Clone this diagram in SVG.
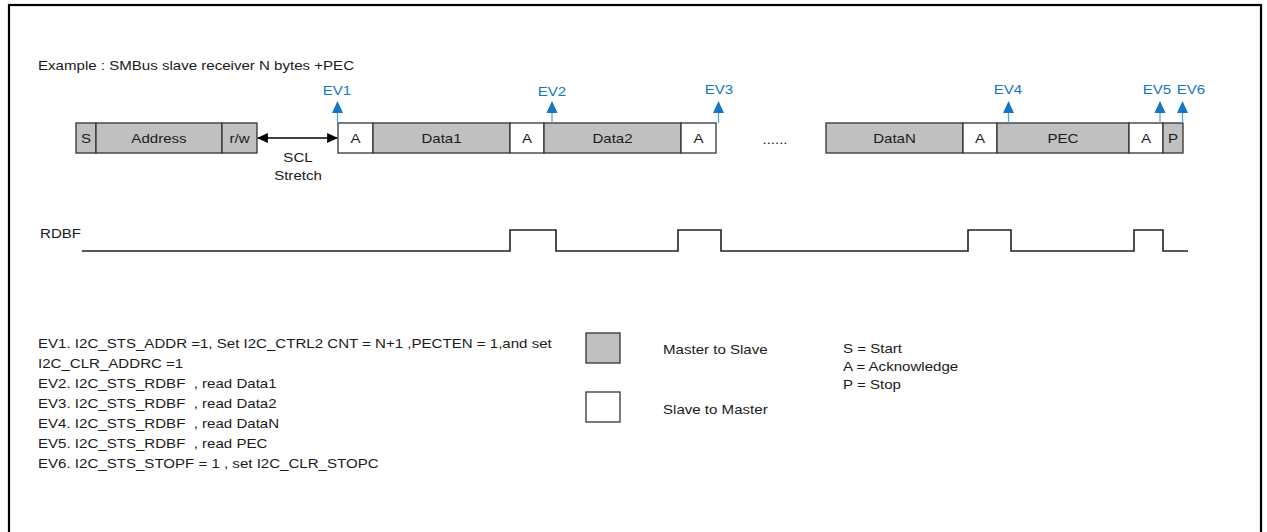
<svg xmlns="http://www.w3.org/2000/svg" width="1267" height="532" viewBox="0 0 1267 532">
<style>
text{font-family:"Liberation Sans",Arial,sans-serif;font-size:13px;fill:#1a1a1a}
.c{text-anchor:middle}
.ev{fill:#1476c6}
.g{fill:#c0c0c0;stroke:#333;stroke-width:1.3}
.w{fill:#fff;stroke:#333;stroke-width:1.3}
.wave{fill:none;stroke:#222;stroke-width:1.6}
.stem{stroke:#5aa3dc;stroke-width:1.3}
</style>
<defs>
<marker id="ah" viewBox="0 0 10 10" refX="9" refY="5" markerWidth="11" markerHeight="11" markerUnits="userSpaceOnUse" orient="auto-start-reverse">
<path d="M0,0.5 L10,5 L0,9.5 z" fill="#000"/>
</marker>
<path id="evh" d="M-5.5,12 L0,0 L5.5,12 z" fill="#1476c6"/>
</defs>
<rect x="9" y="5" width="1252" height="535" fill="#fff" stroke="#000" stroke-width="2.2"/>
<text transform="translate(38,70) scale(1.16,1)">Example : SMBus slave receiver N bytes +PEC</text>

<g id="frame-boxes">
<g id="S"><rect class="g" x="76" y="123" width="20" height="30"/><text class="c" transform="translate(86,142.5) scale(1.16,1)">S</text></g>
<g id="Address"><rect class="g" x="96" y="123" width="126" height="30"/><text class="c" transform="translate(159,142.5) scale(1.16,1)">Address</text></g>
<g id="rw"><rect class="g" x="222" y="123" width="35" height="30"/><text class="c" transform="translate(239.5,142.5) scale(1.16,1)">r/w</text></g>
<g id="A1"><rect class="w" x="338" y="123" width="35" height="30"/><text class="c" transform="translate(355.5,142.5) scale(1.16,1)">A</text></g>
<g id="Data1"><rect class="g" x="373" y="123" width="137" height="30"/><text class="c" transform="translate(441.5,142.5) scale(1.16,1)">Data1</text></g>
<g id="A2"><rect class="w" x="510" y="123" width="34" height="30"/><text class="c" transform="translate(527,142.5) scale(1.16,1)">A</text></g>
<g id="Data2"><rect class="g" x="544" y="123" width="137" height="30"/><text class="c" transform="translate(612.5,142.5) scale(1.16,1)">Data2</text></g>
<g id="A3"><rect class="w" x="681" y="123" width="35" height="30"/><text class="c" transform="translate(698.5,142.5) scale(1.16,1)">A</text></g>
<g id="dots"><text class="c" transform="translate(775,144) scale(1.16,1)">......</text></g>
<g id="DataN"><rect class="g" x="826" y="123" width="137" height="30"/><text class="c" transform="translate(894.5,142.5) scale(1.16,1)">DataN</text></g>
<g id="A4"><rect class="w" x="963" y="123" width="34" height="30"/><text class="c" transform="translate(980,142.5) scale(1.16,1)">A</text></g>
<g id="PEC"><rect class="g" x="997" y="123" width="132" height="30"/><text class="c" transform="translate(1063,142.5) scale(1.16,1)">PEC</text></g>
<g id="A5"><rect class="w" x="1129" y="123" width="34" height="30"/><text class="c" transform="translate(1146,142.5) scale(1.16,1)">A</text></g>
<g id="P"><rect class="g" x="1163" y="123" width="20" height="30"/><text class="c" transform="translate(1173,142.5) scale(1.16,1)">P</text></g>
</g>

<g id="scl-stretch">
<text class="c" transform="translate(298,162) scale(1.16,1)">SCL</text>
<text class="c" transform="translate(298,180) scale(1.16,1)">Stretch</text>
</g>

<g id="connectors">
<line x1="258" y1="138" x2="337" y2="138" stroke="#000" stroke-width="1.4" marker-start="url(#ah)" marker-end="url(#ah)"/>
<g id="ev-arrows">
<line class="stem" x1="337.5" y1="112" x2="337.5" y2="123"/><use href="#evh" x="337.5" y="101"/>
<line class="stem" x1="552" y1="112" x2="552" y2="123"/><use href="#evh" x="552" y="101"/>
<line class="stem" x1="718.5" y1="112" x2="718.5" y2="123"/><use href="#evh" x="718.5" y="101"/>
<line class="stem" x1="1008.5" y1="112" x2="1008.5" y2="123"/><use href="#evh" x="1008.5" y="101"/>
<line class="stem" x1="1160" y1="112" x2="1160" y2="123"/><use href="#evh" x="1160" y="101"/>
<line class="stem" x1="1182.5" y1="112" x2="1182.5" y2="123"/><use href="#evh" x="1182.5" y="101"/>
</g>
</g>

<g id="ev-labels">
<text class="c ev" transform="translate(337,95) scale(1.16,1)">EV1</text>
<text class="c ev" transform="translate(552,96) scale(1.16,1)">EV2</text>
<text class="c ev" transform="translate(719,94) scale(1.16,1)">EV3</text>
<text class="c ev" transform="translate(1008,94) scale(1.16,1)">EV4</text>
<text class="c ev" transform="translate(1157,94) scale(1.16,1)">EV5</text>
<text class="c ev" transform="translate(1191,94) scale(1.16,1)">EV6</text>
</g>

<g id="rdbf">
<text transform="translate(40,238) scale(1.16,1)">RDBF</text>
<path class="wave" d="M82,251 H510 V230 H556 V251 H678 V230 H721 V251 H968 V230 H1011 V251 H1134 V230 H1163 V251 H1188"/>
</g>

<g id="event-list">
<text transform="translate(38,348) scale(1.16,1)">EV1. I2C_STS_ADDR =1, Set I2C_CTRL2 CNT = N+1 ,PECTEN = 1,and set</text>
<text transform="translate(38,368) scale(1.16,1)">I2C_CLR_ADDRC =1</text>
<text transform="translate(38,388) scale(1.16,1)" xml:space="preserve">EV2. I2C_STS_RDBF  , read Data1</text>
<text transform="translate(38,408) scale(1.16,1)" xml:space="preserve">EV3. I2C_STS_RDBF  , read Data2</text>
<text transform="translate(38,428) scale(1.16,1)" xml:space="preserve">EV4. I2C_STS_RDBF  , read DataN</text>
<text transform="translate(38,448) scale(1.16,1)" xml:space="preserve">EV5. I2C_STS_RDBF  , read PEC</text>
<text transform="translate(38,468) scale(1.16,1)">EV6. I2C_STS_STOPF = 1 , set I2C_CLR_STOPC</text>
</g>

<g id="legend">
<g id="legend-m2s"><rect class="g" x="586" y="333" width="34" height="30"/><text transform="translate(663,354) scale(1.16,1)">Master to Slave</text></g>
<g id="legend-s2m"><rect class="w" x="586" y="392" width="34" height="30"/><text transform="translate(663,414) scale(1.16,1)">Slave to Master</text></g>
<g id="legend-abbr">
<text transform="translate(843,353) scale(1.16,1)">S = Start</text>
<text transform="translate(843,371) scale(1.16,1)">A = Acknowledge</text>
<text transform="translate(843,389) scale(1.16,1)">P = Stop</text>
</g>
</g>
</svg>
